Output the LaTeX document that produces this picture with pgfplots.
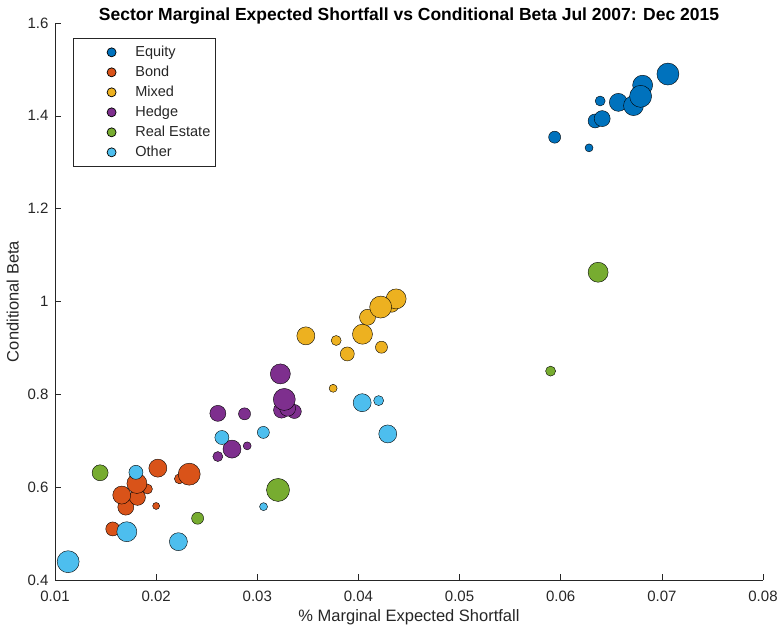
\documentclass[border=0pt]{standalone}
\usepackage{pgfplots}
\pgfplotsset{compat=1.18}
\usepackage{fontspec}
\setmainfont{Liberation Sans}
\definecolor{eq}{HTML}{0072BD}
\definecolor{bd}{HTML}{D95319}
\definecolor{mx}{HTML}{EDB120}
\definecolor{hg}{HTML}{7E2F8E}
\definecolor{re}{HTML}{77AC30}
\definecolor{ot}{HTML}{4DBEEE}
\definecolor{axc}{HTML}{262626}
\pgfplotsset{
  bub/.style={scatter, only marks, mark=*, forget plot,
    scatter/use mapped color={draw=black, fill=#1},
    visualization depends on={\thisrow{r}\as\rr},
    scatter/@pre marker code/.append style={/tikz/mark size=\rr bp, /tikz/line width=0.8pt}},
  leg/.style={only marks, mark=*, mark size=4.5bp, mark options={draw=black, fill=#1, line width=0.7pt}}
}
\begin{document}
\begin{tikzpicture}
\path[use as bounding box] (-55bp,-50bp) rectangle (725bp,580bp);
\begin{axis}[
  at={(0,0)}, anchor=south west,
  scale only axis, width=708bp, height=557bp,
  xmin=0.01, xmax=0.08, ymin=0.4, ymax=1.6,
  xtick={0.01,0.02,...,0.08}, ytick={0.4,0.6,...,1.6},
  scaled x ticks=false, scaled y ticks=false,
  xticklabel style={/pgf/number format/fixed, /pgf/number format/precision=2, yshift=-8bp},
  yticklabel style={/pgf/number format/fixed, /pgf/number format/precision=1, xshift=-3bp},
  /pgf/number format/assume math mode=true,
  axis x line*=bottom, axis y line*=left,
  axis line style={axc, line width=0.6pt, -},
  tick style={axc, line width=0.6pt},
  tick align=inside, major tick length=6bp,
  tick label style={font=\fontsize{15bp}{17bp}\selectfont, text=axc},
  label style={font=\fontsize{16.5bp}{19bp}\selectfont, text=axc},
  xlabel={\% Marginal Expected Shortfall},
  ylabel={Conditional Beta},
  xlabel style={yshift=-1bp},
  ylabel style={yshift=2bp},
  title={Sector Marginal Expected Shortfall vs Conditional Beta Jul 2007: Dec 2015},
  title style={font=\bfseries\fontsize{17.5bp}{20bp}\selectfont, at={(0.5,1)}, anchor=base, yshift=-3bp},
  legend style={at={(0.0254,0.973)}, anchor=north west, draw=axc, line width=0.6pt,
    font=\fontsize{14.5bp}{16bp}\selectfont, text=axc, inner xsep=2bp, inner ysep=4.5bp,
    nodes={inner sep=2.5bp, text height=11bp, text depth=3bp}, row sep=1bp},
  legend cell align=left,
  legend image code/.code={\path (0bp,0bp) (57bp,0bp); \draw[#1] plot coordinates {(36bp,0bp)};},
]
\addlegendimage{leg=eq}\addlegendentry{Equity}
\addlegendimage{leg=bd}\addlegendentry{Bond}
\addlegendimage{leg=mx}\addlegendentry{Mixed}
\addlegendimage{leg=hg}\addlegendentry{Hedge}
\addlegendimage{leg=re}\addlegendentry{Real Estate}
\addlegendimage{leg=ot}\addlegendentry{Other}

% Equity
\addplot[bub=eq] table {
x y r
0.0628 1.331 4
0.0594 1.354 6
0.0634 1.389 7
0.0641 1.394 8
0.0639 1.432 5
0.0657 1.429 9
0.0672 1.422 10
0.0681 1.466 10
0.0679 1.442 11
0.0706 1.490 11
};
% Bond
\addplot[bub=bd] table {
x y r
0.0200 0.5595 3.5
0.01571 0.510 7
0.0170 0.557 8
0.01815 0.578 8
0.01914 0.596 5
0.0166 0.583 9
0.0181 0.608 10
0.02017 0.641 9
0.0223 0.618 5
0.02327 0.628 11
};
% Mixed
\addplot[bub=mx] table {
x y r
0.0375 0.813 4
0.0378 0.916 5
0.04228 0.9015 6
0.0389 0.887 7
0.0348 0.926 9
0.0404 0.9295 10
0.0409 0.966 8
0.0433 0.992 7
0.04373 1.0056 10
0.0422 0.988 11
};
% Hedge
\addplot[bub=hg] table {
x y r
0.029 0.689 4
0.0261 0.666 5
0.0275 0.682 9
0.02874 0.758 6
0.0261 0.759 8
0.03366 0.763 7
0.0324 0.766 8
0.0330 0.770 8
0.03228 0.844 10
0.03267 0.789 11
};
% Real Estate
\addplot[bub=re] table {
x y r
0.059 0.850 5
0.0241 0.533 6
0.01446 0.631 8
0.03205 0.594 11.5
0.0637 1.063 10
};
% Other
\addplot[bub=ot] table {
x y r
0.03062 0.558 4
0.0265 0.707 7
0.0306 0.718 6
0.0420 0.7865 5
0.04037 0.782 9
0.0429 0.7147 9
0.018 0.632 7
0.0171 0.504 10
0.0222 0.4825 9
0.0113 0.4394 11
};
\end{axis}
\end{tikzpicture}
\end{document}
